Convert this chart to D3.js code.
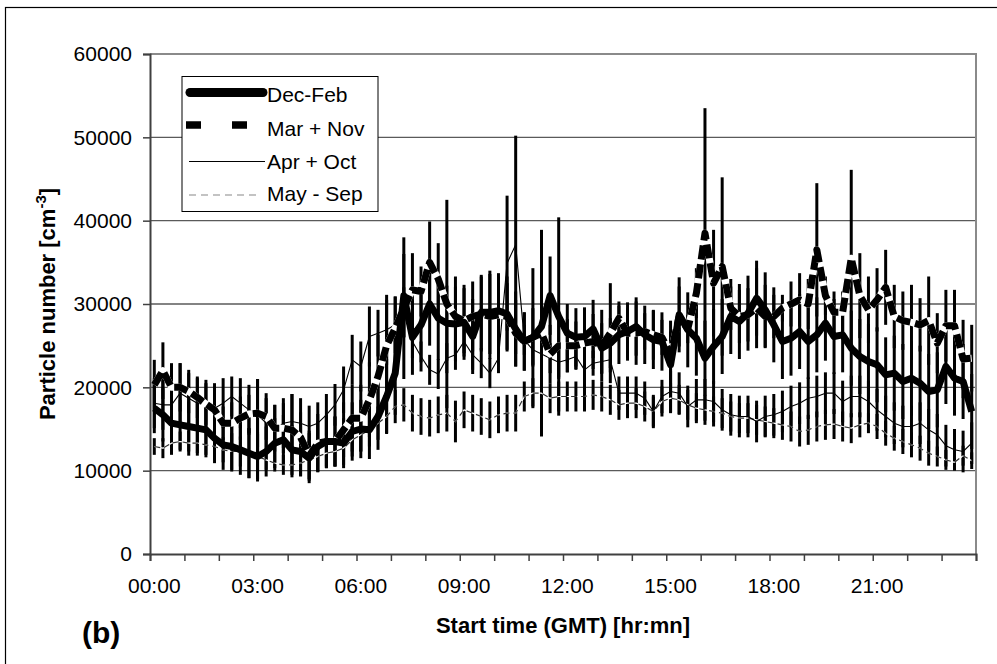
<!DOCTYPE html>
<html>
<head>
<meta charset="utf-8">
<script src="https://cdnjs.cloudflare.com/ajax/libs/d3/7.8.5/d3.min.js"></script>
<style>
  body { margin: 0; background: #fff; }
  svg { display: block; font-family: "Liberation Sans", Arial, sans-serif; }
</style>
</head>
<body>
<div class="chart"></div>
<script>
// size of the picture
let svg_width = 997;
let svg_height = 664;

// plot area
let plot_left = 150;
let plot_right = 976;
let plot_top = 54;
let plot_bottom = 554;

// categories: 96 start times, 15 min apart
let n_cat = 96;
let categories = d3.range(n_cat).map(function(i) {
    return d3.format("02")(Math.floor(i / 4)) + ":" + d3.format("02")((i % 4) * 15);
});

let xTickLabels = ["00:00", "03:00", "06:00", "09:00", "12:00", "15:00", "18:00", "21:00"];
let yTicks = [0, 10000, 20000, 30000, 40000, 50000, 60000];

// series values (particle number, cm-3)
let decFeb = [17500,16700,15700,15500,15300,15100,14900,13900,13100,12900,
  12500,12100,11700,12300,13300,13700,12500,12300,11500,12900,
  13500,13500,13300,14700,15000,14900,16500,18900,21700,31000,
  26000,27500,30000,28300,27700,27600,27800,26100,29000,29000,
  29200,28800,27000,25500,26000,27300,31000,28500,26500,26000,
  26100,27000,24700,25300,26300,26700,27300,26300,25700,25500,
  22700,28700,26900,25900,23500,24900,26100,28500,27900,28900,
  30700,29300,27500,25500,25900,26700,25500,26300,27700,26100,
  26300,24700,23700,23100,22700,21500,21700,20700,21100,20500,
  19500,19700,22500,21100,20700,17100];

let marNov = [20300,22000,20000,20000,19500,18800,18000,17300,15700,15700,
  16300,16800,16900,16500,15100,15100,14900,14000,11800,13300,
  13500,13500,14900,16300,16300,18500,21300,25000,27100,29500,
  31700,31500,35000,33000,30000,28500,28000,28500,28800,28500,
  28700,28500,26500,25500,26000,26500,24000,25000,25000,25000,
  25300,25500,25000,26500,28300,26500,26500,26700,26300,26000,
  24000,28500,27000,31300,38500,32500,34500,29500,28500,28700,
  29500,28500,28500,29500,30000,30500,30000,36500,31000,29000,
  29000,35500,31000,29300,30500,32000,28500,28000,27800,27500,
  28000,25300,27400,27400,23400,23500];

let aprOct = [18100,17900,17900,19300,18700,18100,17900,17500,18100,18900,
  18100,17300,16700,15700,14900,15700,15900,15700,15300,15700,
  16700,17900,19700,23300,22500,26100,26500,26900,27500,29000,
  25500,23700,22100,21600,23500,23900,25500,23900,22900,21700,
  23500,34900,37100,25700,24500,24000,23500,23000,23300,23700,
  22100,22900,23100,23300,19300,19300,19300,18700,17100,18900,
  19500,19300,17700,18500,18500,18300,17300,16700,16500,16500,
  15900,16500,16700,17100,17700,18100,18700,18900,19300,19300,
  18300,18900,18900,18300,17300,16500,15700,15300,15300,15700,
  14900,14300,13000,12500,12300,13300];

let maySep = [12900,12700,13300,13500,13300,13300,13100,12900,12500,12300,
  12300,12100,11700,11300,10900,10700,10700,10900,11300,11700,
  12100,12300,12700,13700,14300,14900,15700,16500,17700,17900,
  16900,16500,16300,16700,16900,15900,17300,16900,16500,16100,
  16700,16900,16900,18900,19300,19300,18700,18900,18900,18900,
  18900,19100,18900,18500,17900,18100,18100,17700,17100,18300,
  18700,18500,17900,17500,17300,17100,16900,16500,16300,16300,
  16100,15900,15700,15500,15300,14700,14900,15300,15500,15600,
  15300,15100,15500,15700,15300,14500,13900,13500,13100,12700,
  12100,11700,11300,11000,11800,11200];

// error bar half lengths
let decFebErr = [3000,3200,3000,3000,3000,3000,3000,3000,3000,3000,
  3000,3000,3000,3000,3000,3000,3000,3000,3000,3000,
  3000,3000,3000,3500,3500,3500,4000,4500,5000,5000,
  4500,4500,5000,5000,4500,4500,4500,4500,4500,5000,
  4500,4500,4500,3500,3500,4000,4700,11900,3500,3500,
  3500,3500,3000,3000,3500,3500,3500,3500,3500,3500,
  4000,4500,4500,4500,4500,4500,4500,4500,4500,4500,
  4500,4500,4500,4500,4500,4500,4500,4500,4500,4500,
  4500,4500,4500,4500,4500,4500,4500,4500,4500,4500,
  4500,4500,4500,4500,4500,4500];

let marNovErr = [3000,3400,2900,2900,2600,2500,2500,2800,2000,2500,
  2600,2300,4100,2800,2800,3000,4300,3000,3000,3500,
  3200,3000,3300,4000,4000,4500,5000,5500,3800,8500,
  4400,3000,4900,4300,12500,4800,3900,4200,4500,5100,
  4600,4000,4000,3500,8300,12400,3500,4000,3200,2900,
  3400,3300,4300,6000,2000,3000,3800,2200,3000,2100,
  4000,3600,1700,3000,15000,6400,10700,2600,3200,3200,
  4800,3800,2600,1600,2700,3200,3000,8000,2300,2500,
  2500,10600,5100,4000,3800,4500,3800,3500,4500,3200,
  5300,3600,4300,4300,4700,4000];

let aprOctErr = [3000,3000,3200,3600,3000,3000,3000,3000,3000,2400,
  3000,3000,4300,3000,3000,3000,3300,3000,2500,2500,
  2500,2500,2800,3000,3000,3600,2800,4200,3400,3000,
  2000,1800,1800,1800,1800,1800,1800,1800,1800,1800,
  1800,8100,13100,1800,1800,1800,1800,1800,1500,1500,
  1500,1500,1500,1500,2000,2000,2000,2000,2000,2000,
  2500,2500,2500,2500,2500,2500,2500,2500,2500,2500,
  2500,2500,2500,2500,2500,2500,2500,2500,2500,2500,
  2500,2500,2500,2500,2500,2500,2500,2500,2500,2500,
  2500,2500,2500,2500,2500,2500];

let maySepErr = [1000,1200,1400,1200,1500,1500,1500,1600,1500,2200,
  1800,3000,2700,1200,1000,1200,1500,1500,2300,1800,
  1800,1800,2000,2000,2000,2000,2000,2000,2000,2000,
  2200,2200,2200,2200,2200,2500,2200,2200,2200,2200,
  2200,2200,2200,1800,1800,1800,1800,1800,1800,1800,
  1800,1800,1800,1800,1800,1800,1800,1800,1800,1800,
  1800,1800,1800,1800,1800,1800,1800,1800,1800,1800,
  1800,1800,1800,1800,1800,1800,1800,1800,1800,1800,
  1800,1800,1500,1200,1500,1500,1500,1500,1500,1500,
  1500,1200,1200,900,1200,1000];

// series list (drawing order: last one ends on top)
let series = [
    { name: "May - Sep", values: maySep, err: maySepErr, color: "#333", width: 1.2, dash: "6,4", opaque: true },
    { name: "Apr + Oct", values: aprOct, err: aprOctErr, color: "#000", width: 1.1, dash: null, opaque: false },
    { name: "Mar + Nov", values: marNov, err: marNovErr, color: "#000", width: 7, dash: "14,5", opaque: true },
    { name: "Dec-Feb", values: decFeb, err: decFebErr, color: "#000", width: 7, dash: null, opaque: false }
];

// scales
let x_scale = d3.scaleBand()
                .domain(d3.range(n_cat))
                .range([plot_left, plot_right]);

let hour_scale = d3.scaleLinear()
                .domain([0, 24])
                .range([plot_left, plot_right]);

let y_scale = d3.scaleLinear()
                .domain([0, 60000])
                .range([plot_bottom, plot_top]);

function xc(i) { return x_scale(i) + x_scale.bandwidth() / 2; }

// ================================================
let svg = d3.select('.chart')
            .append('svg')
            .attr('width', svg_width)
            .attr('height', svg_height);

svg.append('rect')
    .attr('width', svg_width).attr('height', svg_height)
    .attr('fill', '#fff');

// outer frame (cut on the right and bottom)
svg.append('rect')
    .attr('x', 5.5).attr('y', 7.5)
    .attr('width', 1100).attr('height', 800)
    .attr('fill', 'none').attr('stroke', '#000').attr('stroke-width', 1.2);

// grid lines
svg.append('g')
    .selectAll('line')
    .data(yTicks.filter(function(d) { return d > 0 && d < 60000; }))
    .enter()
    .append('line')
    .attr('x1', plot_left).attr('x2', plot_right)
    .attr('y1', function(d) { return y_scale(d); })
    .attr('y2', function(d) { return y_scale(d); })
    .attr('stroke', '#5a5a5a').attr('stroke-width', 1.3);

// plot border, top and right
svg.append('path')
    .attr('d', 'M' + plot_left + ',' + plot_top + 'H' + plot_right + 'V' + plot_bottom)
    .attr('fill', 'none').attr('stroke', '#8a8a8a').attr('stroke-width', 2);

// error bars
series.forEach(function(s) {
    svg.append('g')
        .selectAll('line')
        .data(s.values)
        .enter()
        .append('line')
        .attr('x1', function(d, i) { return xc(i); })
        .attr('x2', function(d, i) { return xc(i); })
        .attr('y1', function(d, i) { return y_scale(d - s.err[i]); })
        .attr('y2', function(d, i) { return y_scale(d + s.err[i]); })
        .attr('stroke', '#000').attr('stroke-width', 3);
});

// lines
let line = d3.line()
             .x(function(d, i) { return xc(i); })
             .y(function(d) { return y_scale(d); });

series.forEach(function(s) {
    if (s.opaque) {
        // dashes are drawn with a white background in the gaps
        svg.append('path')
            .attr('d', line(s.values))
            .attr('fill', 'none').attr('stroke', '#fff')
            .attr('stroke-width', s.width)
            .attr('stroke-linejoin', 'round');
    }
    svg.append('path')
        .attr('d', line(s.values))
        .attr('fill', 'none')
        .attr('stroke', s.color)
        .attr('stroke-width', s.width)
        .attr('stroke-linejoin', 'round')
        .attr('stroke-dasharray', s.dash);
});

// y axis
let y_axis = svg.append('g')
    .attr('transform', 'translate(' + plot_left + ',0)')
    .call(d3.axisLeft(y_scale).tickValues(yTicks).tickSize(7).tickPadding(11).tickFormat(d3.format('d')));
y_axis.select('.domain').attr('stroke', '#404040').attr('stroke-width', 2);
y_axis.selectAll('.tick line').attr('stroke', '#404040').attr('stroke-width', 1.5);
y_axis.selectAll('text')
    .attr('font-size', 21).attr('fill', '#000')
    .attr('font-family', '"Liberation Sans", Arial, sans-serif');

// x axis: a tick every hour, a label every three hours
let x_axis = svg.append('g')
    .attr('transform', 'translate(0,' + plot_bottom + ')')
    .call(d3.axisBottom(hour_scale).tickValues(d3.range(0, 25)).tickSize(7).tickFormat(''));
x_axis.select('.domain').attr('stroke', '#404040').attr('stroke-width', 2);
x_axis.selectAll('.tick line').attr('stroke', '#404040').attr('stroke-width', 1.5);

svg.append('g')
    .selectAll('text')
    .data(xTickLabels)
    .enter()
    .append('text')
    .attr('x', function(d) { return xc(categories.indexOf(d)); })
    .attr('y', 593)
    .attr('text-anchor', 'middle')
    .attr('font-size', 21)
    .text(function(d) { return d; });

// axis titles
svg.append('text')
    .attr('x', (plot_left + plot_right) / 2).attr('y', 633)
    .attr('text-anchor', 'middle')
    .attr('font-size', 22).attr('font-weight', 'bold')
    .text('Start time (GMT) [hr:mn]');

let y_title = svg.append('text')
    .attr('transform', 'translate(55,' + ((plot_top + plot_bottom) / 2) + ') rotate(-90)')
    .attr('text-anchor', 'middle')
    .attr('font-size', 22).attr('font-weight', 'bold');
y_title.append('tspan').text('Particle number [cm');
y_title.append('tspan').attr('font-size', 15).attr('dy', -9).text('-3');
y_title.append('tspan').attr('dy', 9).text(']');

svg.append('text')
    .attr('x', 82).attr('y', 643)
    .attr('font-size', 30).attr('font-weight', 'bold')
    .text('(b)');

// legend
let legend = svg.append('g');
legend.append('rect')
    .attr('x', 182).attr('y', 76.5)
    .attr('width', 196).attr('height', 135)
    .attr('fill', '#fff').attr('stroke', '#000').attr('stroke-width', 1);

let legend_items = [
    { name: "Dec-Feb", y: 101.5, ky: 92.5, x1: 190, x2: 263, width: 9, dash: null, color: "#000", cap: "round" },
    { name: "Mar + Nov", y: 136, ky: 125, x1: 186, x2: 265, width: 7.5, dash: "15,31", color: "#000", cap: "butt" },
    { name: "Apr + Oct", y: 168.5, ky: 161.5, x1: 189, x2: 265, width: 1.2, dash: null, color: "#000", cap: "butt" },
    { name: "May - Sep", y: 201, ky: 195, x1: 189, x2: 260, width: 1.2, dash: "7,5", color: "#888", cap: "butt" }
];

legend.selectAll('line')
    .data(legend_items)
    .enter()
    .append('line')
    .attr('x1', function(d) { return d.x1; })
    .attr('x2', function(d) { return d.x2; })
    .attr('y1', function(d) { return d.ky; })
    .attr('y2', function(d) { return d.ky; })
    .attr('stroke', function(d) { return d.color; })
    .attr('stroke-width', function(d) { return d.width; })
    .attr('stroke-linecap', function(d) { return d.cap; })
    .attr('stroke-dasharray', function(d) { return d.dash; });

legend.selectAll('text')
    .data(legend_items)
    .enter()
    .append('text')
    .attr('x', 267)
    .attr('y', function(d) { return d.y; })
    .attr('font-size', 21)
    .text(function(d) { return d.name; });
</script>
</body>
</html>
